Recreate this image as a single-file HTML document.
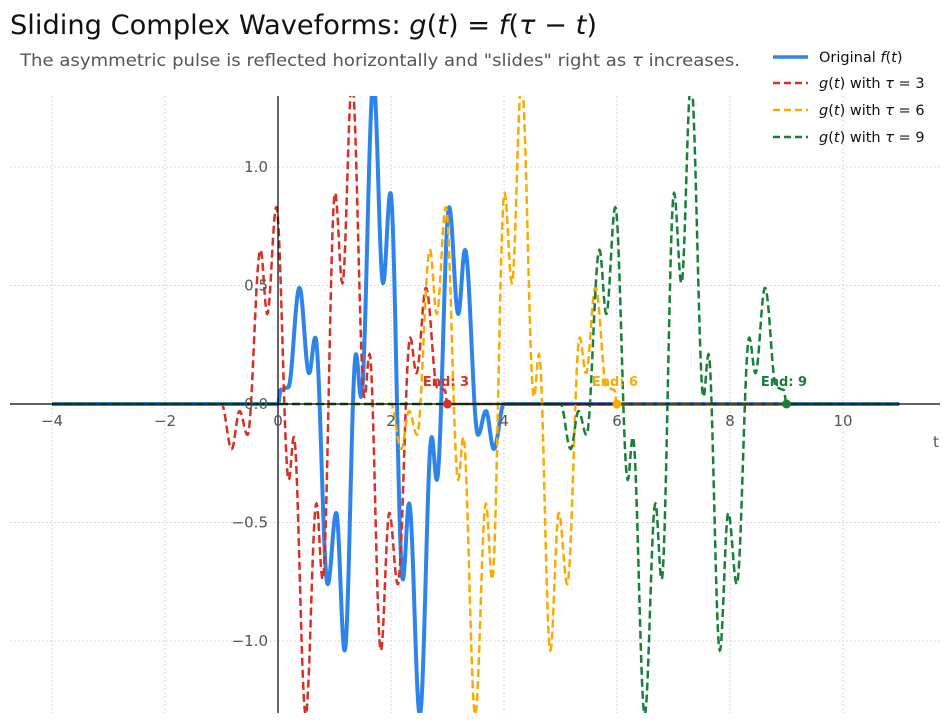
<!DOCTYPE html>
<html><head><meta charset="utf-8"><style>
body{margin:0;background:#fff;width:950px;height:722px;overflow:hidden;font-family:"Liberation Sans","DejaVu Sans",sans-serif}
</style></head><body>
<svg id="s" width="950" height="722" xmlns="http://www.w3.org/2000/svg" font-family="DejaVu Sans, Liberation Sans, sans-serif">
<defs><clipPath id="c"><rect x="10" y="96" width="930" height="617"/></clipPath></defs>
<text x="10" y="34" font-size="27" fill="#111" textLength="587" lengthAdjust="spacingAndGlyphs">Sliding Complex Waveforms: <tspan font-style="italic">g</tspan>(<tspan font-style="italic">t</tspan>) = <tspan font-style="italic">f</tspan>(<tspan font-style="italic">τ</tspan> − <tspan font-style="italic">t</tspan>)</text>
<text x="20" y="66" font-size="17" fill="#555" textLength="720" lengthAdjust="spacingAndGlyphs">The asymmetric pulse is reflected horizontally and "slides" right as <tspan font-style="italic">τ</tspan> increases.</text>
<g id="grid" stroke="#ccc" stroke-width="1" stroke-dasharray="1.5,2.5"></g>
<g id="curves" clip-path="url(#c)"></g>
<line x1="10" y1="404" x2="940" y2="404" stroke="#000" stroke-width="1.2"/>
<line x1="278" y1="96" x2="278" y2="713" stroke="#000" stroke-width="1.2"/>
<g id="ticks" font-size="15" fill="#555"></g>
<text x="933" y="447" font-size="15" fill="#555">t</text>
<g font-size="13" font-weight="bold">
<text x="446" y="386" fill="#d93025" text-anchor="middle">End: 3</text>
<text x="615" y="386" fill="#f9ab00" text-anchor="middle">End: 6</text>
<text x="784" y="386" fill="#188038" text-anchor="middle">End: 9</text>
</g>
<circle cx="447.5" cy="404" r="4.5" fill="#d93025"/>
<circle cx="617" cy="404" r="4.5" fill="#f9ab00"/>
<circle cx="786.5" cy="404" r="4.5" fill="#188038"/>
<g font-size="14.5" fill="#111">
<line x1="773" y1="57" x2="808" y2="57" stroke="#2f84ea" stroke-width="3.5"/>
<text x="819" y="62">Original <tspan font-style="italic">f</tspan>(<tspan font-style="italic">t</tspan>)</text>
<line x1="773" y1="83" x2="808" y2="83" stroke="#d93025" stroke-width="2.5" stroke-dasharray="7,4"/>
<text x="819" y="88"><tspan font-style="italic">g</tspan>(<tspan font-style="italic">t</tspan>) with <tspan font-style="italic">τ</tspan> = 3</text>
<line x1="773" y1="110" x2="808" y2="110" stroke="#f9ab00" stroke-width="2.5" stroke-dasharray="7,4"/>
<text x="819" y="115"><tspan font-style="italic">g</tspan>(<tspan font-style="italic">t</tspan>) with <tspan font-style="italic">τ</tspan> = 6</text>
<line x1="773" y1="137" x2="808" y2="137" stroke="#188038" stroke-width="2.5" stroke-dasharray="7,4"/>
<text x="819" y="142"><tspan font-style="italic">g</tspan>(<tspan font-style="italic">t</tspan>) with <tspan font-style="italic">τ</tspan> = 9</text>
</g>
</svg>
<script>
var X=function(t){return 278+56.5*t}, Y=function(y){return 404-237*y};
var P=[[0,0],[0.05,0.06],[0.18,0.07],[0.38,0.49],[0.55,0.13],[0.66,0.28],[0.88,-0.76],[1.03,-0.46],[1.18,-1.04],[1.38,0.21],[1.47,0.03],[1.69,1.36],[1.86,0.51],[1.99,0.89],[2.21,-0.74],[2.32,-0.42],[2.51,-1.31],[2.72,-0.14],[2.81,-0.32],[3.03,0.83],[3.19,0.38],[3.31,0.65],[3.54,-0.13],[3.68,-0.03],[3.82,-0.19],[4,0]];
function f(t){if(t<=0||t>=4)return 0;for(var i=0;i<P.length-1;i++){var a=P[i],b=P[i+1];if(t>=a[0]&&t<=b[0]){var u=(t-a[0])/(b[0]-a[0]);var w=(1-Math.cos(Math.PI*u))/2;return a[1]+(b[1]-a[1])*w;}}return 0;}
var ns="http://www.w3.org/2000/svg";
function el(n,a,p){var e=document.createElementNS(ns,n);for(var k in a)e.setAttribute(k,a[k]);if(p)p.appendChild(e);return e;}
var g=document.getElementById('grid');
for(var t=-4;t<=10;t+=2)el('line',{x1:X(t),y1:96,x2:X(t),y2:713},g);
[-1,-0.5,0,0.5,1].forEach(function(v){el('line',{x1:10,y1:Y(v),x2:940,y2:Y(v)},g)});
function path(fn){var d='';for(var t=-4;t<=11;t+=0.005){d+=(d?'L':'M')+X(t).toFixed(2)+','+Y(fn(t)).toFixed(2);}return d;}
var c=document.getElementById('curves');
el('path',{d:path(f),fill:'none',stroke:'#2f84ea','stroke-width':4,'stroke-linejoin':'round'},c);
[[3,'#d93025'],[6,'#f9ab00'],[9,'#188038']].forEach(function(q){
el('path',{d:path(function(t){return f(q[0]-t)}),fill:'none',stroke:q[1],'stroke-width':2.5,'stroke-dasharray':'8,4'},c);});
var tk=document.getElementById('ticks');
for(var t=-4;t<=10;t+=2){var e=el('text',{x:X(t),y:426,'text-anchor':'middle'},tk);e.textContent=(t<0?'−':'')+Math.abs(t);}
[[-1,'−1.0'],[-0.5,'−0.5'],[0,'0.0'],[0.5,'0.5'],[1,'1.0']].forEach(function(q){var e=el('text',{x:268,y:Y(q[0])+5,'text-anchor':'end'},tk);e.textContent=q[1];});
</script>
</body></html>
